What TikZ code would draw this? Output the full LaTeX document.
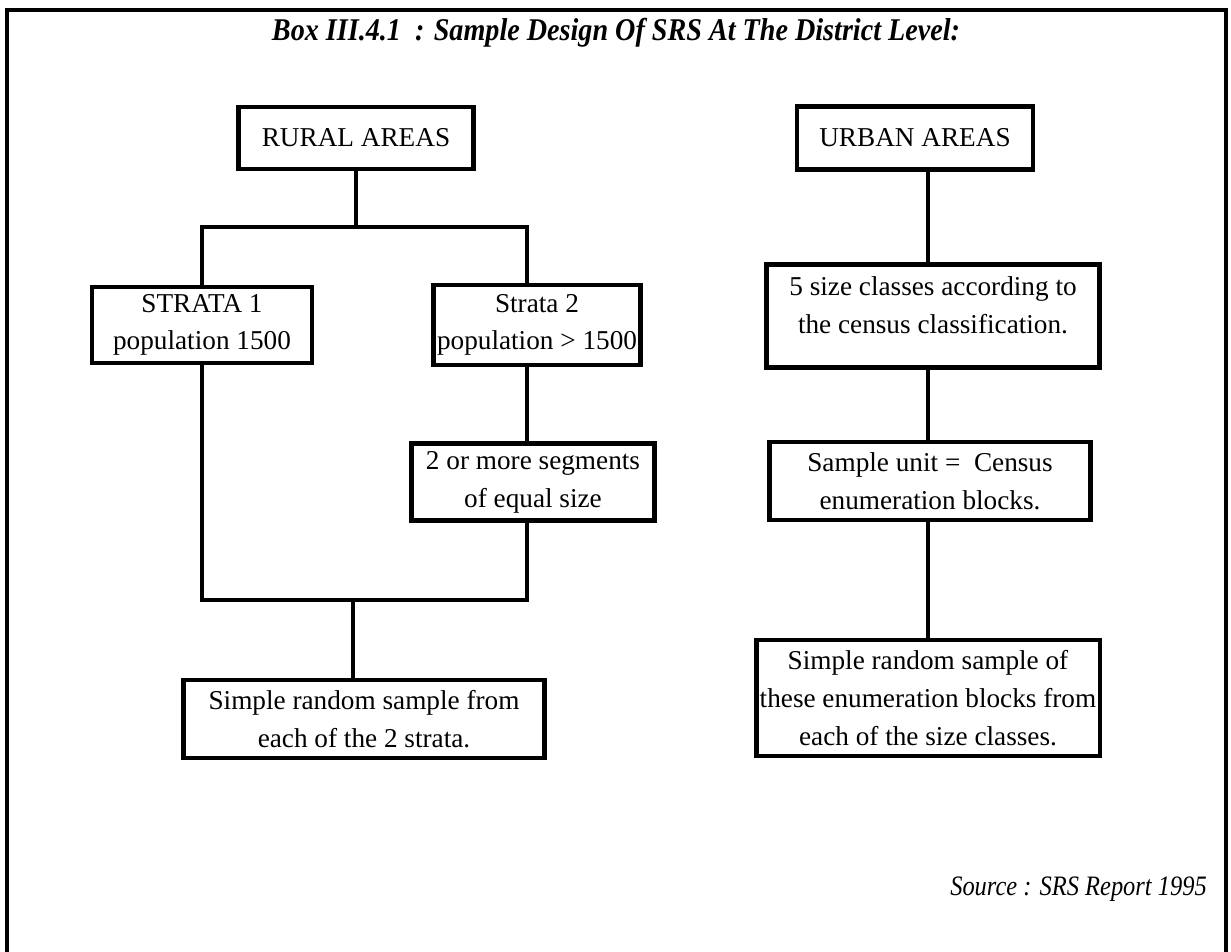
\documentclass[tikz,border=0pt]{standalone}
\usepackage{fontspec}
\setmainfont{Liberation Serif}
\usetikzlibrary{positioning, calc}

\begin{document}
\begin{tikzpicture}[x=0.02cm, y=-0.02cm,
    box/.style={draw, line width=2.6pt, align=center, inner sep=2pt,
        font=\fontsize{15.5}{21.5}\selectfont},
    link/.style={line width=2.6pt}]
    \useasboundingbox (0,0) rectangle (1231,952);
    \draw[line width=2.2pt] (7,952) -- (7,10) -- (1226,10) -- (1226,952);
    \node[font=\fontsize{18}{20}\selectfont\bfseries\itshape] (title) at (616,33)
        {\scalebox{0.89}[1]{Box III.4.1\ \ : Sample Design Of SRS At The District Level:}};

    \node[box, minimum width=4.7cm, minimum height=1.24cm] (rural) at (356,138) {RURAL AREAS};
    \node[box, minimum width=4.4cm, minimum height=1.52cm] (strata1) at (202,325) {STRATA 1\\population 1500};
    \node[box, minimum width=4.1cm, minimum height=1.6cm] (strata2) at (537,325) {Strata 2\\population > 1500};
    \node[box, minimum width=4.86cm, minimum height=1.54cm] (segments) at (533,482) {2 or more segments\\of equal size};
    \node[box, minimum width=7.22cm, minimum height=1.56cm] (rsample) at (364,719) {Simple random sample from\\each of the 2 strata.};

    \node[box, minimum width=4.72cm, minimum height=1.26cm] (urban) at (915,138) {URBAN AREAS};
    \node[box, minimum width=6.66cm, minimum height=2.06cm] (sizes) at (933,316) {5 size classes according to\\the census classification.\\[-9pt]\mbox{}};
    \node[box, minimum width=6.42cm, minimum height=1.56cm] (unit) at (930,481) {Sample unit =\ \ Census\\enumeration blocks.};
    \node[box, minimum width=6.86cm, minimum height=2.32cm] (usample) at (928,698) {Simple random sample of\\these enumeration blocks from\\each of the size classes.};

    \node[font=\fontsize{16}{18}\selectfont\itshape, anchor=east] (source) at (1213,889)
        {\scalebox{0.87}[1]{Source : SRS Report 1995}};

    \coordinate (split) at (356,227);
    \coordinate (lft) at (202,227);
    \coordinate (rgt) at (527,227);
    \coordinate (joinl) at (202,600);
    \coordinate (joinr) at (527,600);
    \coordinate (join) at (353,600);

    \draw[link] (rural.south -| split) -- (split);
    \draw[link] (strata1.north -| lft) -- (lft) -- (rgt) -- (strata2.north -| rgt);
    \draw[link] (strata1.south -| lft) -- (joinl) -- (joinr) -- (segments.south -| joinr);
    \draw[link] (strata2.south -| rgt) -- (segments.north -| rgt);
    \draw[link] (join) -- (rsample.north -| join);

    \draw[link] (urban.south -| 928,0) -- (sizes.north -| 928,0);
    \draw[link] (sizes.south -| 928,0) -- (unit.north -| 928,0);
    \draw[link] (unit.south -| 928,0) -- (usample.north -| 928,0);
\end{tikzpicture}
\end{document}
